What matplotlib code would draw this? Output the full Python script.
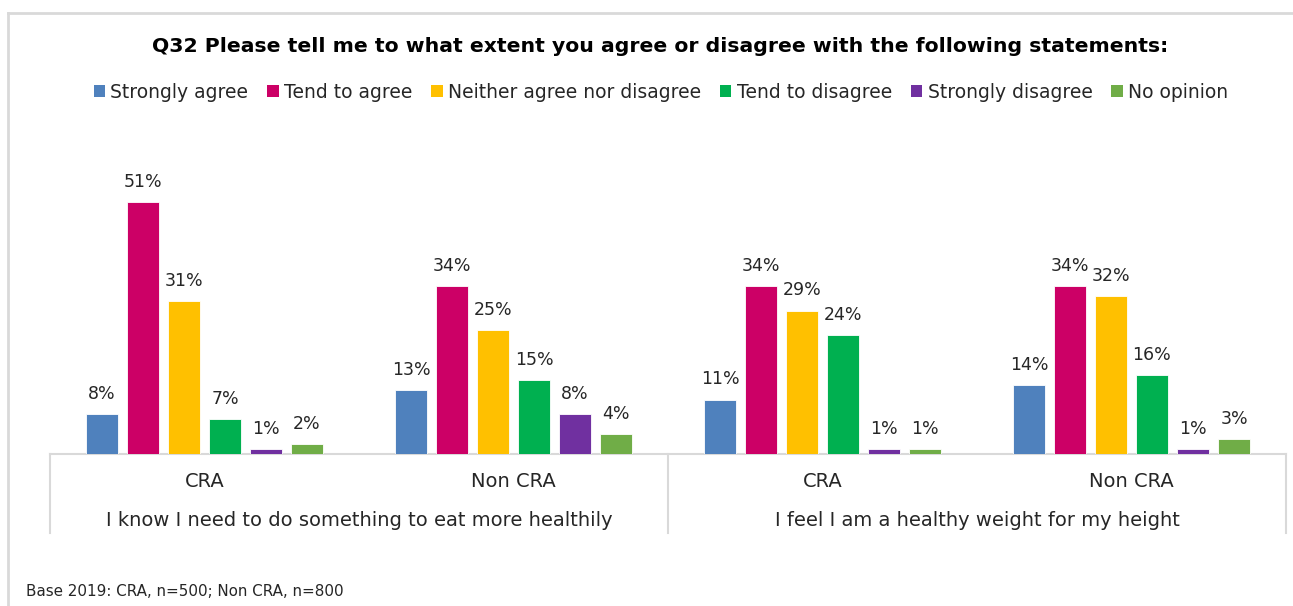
import matplotlib
matplotlib.use("Agg")
import matplotlib.pyplot as plt
import matplotlib.transforms as mtransforms
from matplotlib.patches import Patch
from matplotlib.lines import Line2D
import numpy as np

# Survey responses (%)
series_names = ["Strongly agree", "Tend to agree", "Neither agree nor disagree",
                "Tend to disagree", "Strongly disagree", "No opinion"]
series_colors = ["#4F81BD", "#CC0066", "#FFC000", "#00B050", "#7030A0", "#70AD47"]
groups = ["CRA", "Non CRA", "CRA", "Non CRA"]
statements = ["I know I need to do something to eat more healthily",
              "I feel I am a healthy weight for my height"]

strongly_agree = [8, 13, 11, 14]
tend_to_agree = [51, 34, 34, 34]
neither = [31, 25, 29, 32]
tend_to_disagree = [7, 15, 24, 16]
strongly_disagree = [1, 8, 1, 1]
no_opinion = [2, 4, 1, 3]
values = [strongly_agree, tend_to_agree, neither, tend_to_disagree,
          strongly_disagree, no_opinion]

title = "Q32 Please tell me to what extent you agree or disagree with the following statements:"
footnote = "Base 2019: CRA, n=500; Non CRA, n=800"

plt.rcParams["font.family"] = ["DejaVu Sans"]
W, H = 1293, 606
fig = plt.figure(figsize=(W / 100, H / 100), dpi=100)

grid_col = "#D9D9D9"
text_col = "#262626"

# outer chart frame (top and left edges visible)
fig.add_artist(Line2D([8 / W, 8 / W], [0, 1 - 13 / H], color=grid_col, lw=2,
                      transform=fig.transFigure))
fig.add_artist(Line2D([8 / W, 1], [1 - 13 / H, 1 - 13 / H], color=grid_col, lw=2,
                      transform=fig.transFigure))

ax_left, ax_right = 50, 1286
ax_base, ax_top = 454, 182
ax = fig.add_axes([ax_left / W, (H - ax_base) / H,
                   (ax_right - ax_left) / W, (ax_base - ax_top) / H])
ymax = 55
ax.set_ylim(0, ymax)
ax.set_xlim(-0.5, len(groups) - 0.5)

step = 41 / 309
width = 32 / 309
x = np.arange(len(groups))
for j, (vals, col) in enumerate(zip(values, series_colors)):
    pos = x + (j - 2.5) * step
    bars = ax.bar(pos, vals, width=width, color=col, edgecolor="white",
                  linewidth=0.6, zorder=3)
    for b, v in zip(bars, vals):
        ax.annotate(f"{v}%", (b.get_x() + b.get_width() / 2, v),
                    xytext=(0, 8), textcoords="offset points",
                    ha="center", va="bottom", fontsize=12.5, color=text_col)

for s in ["top", "right", "left"]:
    ax.spines[s].set_visible(False)
ax.spines["bottom"].set_color(grid_col)
ax.spines["bottom"].set_linewidth(1.5)
ax.set_yticks([])
ax.set_xticks(x)
ax.set_xticklabels(groups, fontsize=14, color=text_col)
ax.tick_params(axis="x", length=0, pad=13)

# separators between statement groups and statement labels
trans = mtransforms.blended_transform_factory(ax.transData, ax.transAxes)
depth = (533 - 454) / (ax_base - ax_top)
for xs in [-0.5, 1.5, 3.5]:
    ax.add_line(Line2D([xs, xs], [0, -depth], color=grid_col, lw=1.5,
                       transform=trans, clip_on=False))
lab_y = -(520 - 454) / (ax_base - ax_top)
for k, st in enumerate(statements):
    ax.text(2 * k + 0.5, lab_y, st, transform=trans, ha="center", va="center",
            fontsize=14, color=text_col)

fig.text(660 / W, 1 - 47 / H, title, ha="center", va="center",
         fontsize=14.7, fontweight="bold", color="black")

handles = [Patch(facecolor=c, edgecolor="none") for c in series_colors]
fig.legend(handles, series_names, loc="center", bbox_to_anchor=(661 / W, 1 - 92 / H),
           ncol=6, frameon=False, fontsize=13.5, handlelength=0.6, handleheight=0.6,
           handletextpad=0.3, columnspacing=1.0, labelcolor=text_col)

fig.text(26 / W, 1 - 592 / H, footnote, ha="left", va="center",
         fontsize=10.9, color=text_col)

fig.savefig("out.png", dpi=100)
